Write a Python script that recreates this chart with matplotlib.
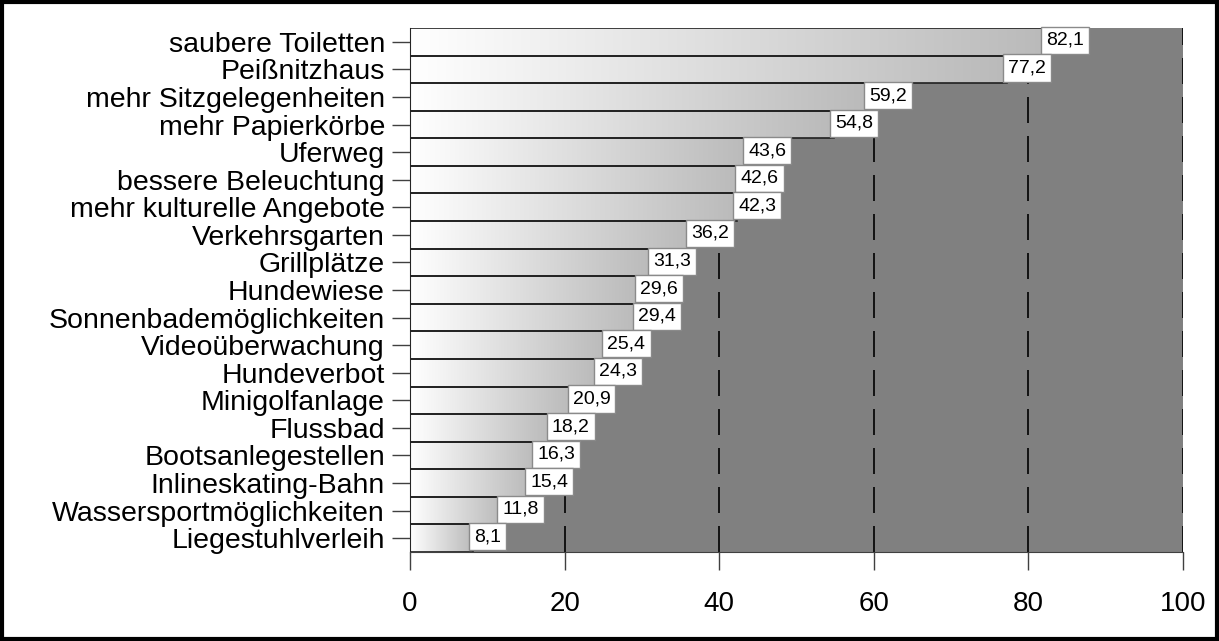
import numpy as np
import matplotlib.pyplot as plt
from matplotlib.colors import LinearSegmentedColormap
from matplotlib.patches import Rectangle

plt.rcParams['font.family'] = ['Liberation Sans', 'DejaVu Sans']

categories = ['saubere Toiletten', 'Peißnitzhaus', 'mehr Sitzgelegenheiten',
              'mehr Papierkörbe', 'Uferweg', 'bessere Beleuchtung',
              'mehr kulturelle Angebote', 'Verkehrsgarten', 'Grillplätze',
              'Hundewiese', 'Sonnenbademöglichkeiten', 'Videoüberwachung',
              'Hundeverbot', 'Minigolfanlage', 'Flussbad', 'Bootsanlegestellen',
              'Inlineskating-Bahn', 'Wassersportmöglichkeiten', 'Liegestuhlverleih']
values = [82.1, 77.2, 59.2, 54.8, 43.6, 42.6, 42.3, 36.2, 31.3, 29.6,
          29.4, 25.4, 24.3, 20.9, 18.2, 16.3, 15.4, 11.8, 8.1]
xticks = [0, 20, 40, 60, 80, 100]

fig = plt.figure(figsize=(12.19, 6.41), dpi=100)
ax = fig.add_axes([0.3363, 0.1388, 0.6342, 0.8175])
ax.set_facecolor('#808080')

# each bar gets its own white -> grey ramp
grad = LinearSegmentedColormap.from_list('g', ['#ffffff', '#bababa'])
ramp = np.linspace(0, 1, 256).reshape(1, -1)
n = len(values)
for i, v in enumerate(values):
    y = n - 1 - i
    ax.imshow(ramp, cmap=grad, extent=[0, v, y - 0.5, y + 0.5],
              aspect='auto', zorder=2, interpolation='bilinear')
    ax.add_patch(Rectangle((0, y - 0.5), v, 1, fill=False,
                           edgecolor='#202020', lw=1.2, zorder=3))
    ax.text(v + 0.15, y + 0.05, f'{v:.1f}'.replace('.', ','), ha='left', va='center',
            fontsize=14, zorder=4,
            bbox=dict(boxstyle='square,pad=0.26', fc='white', ec='#8a8a8a', lw=1))

for x in xticks[1:]:
    ax.axvline(x, color='black', ls=(0, (15.6, 7.8)), lw=1.2, zorder=1)

ax.set_xlim(0, 100)
ax.set_ylim(-0.5, n - 0.5)
ax.set_xticks(xticks)
ax.set_xticklabels([str(x) for x in xticks], fontsize=20)
ax.set_yticks(range(n))
ax.set_yticklabels(categories[::-1], fontsize=20.5)
ax.tick_params(axis='y', length=13, width=1, color='#404040', pad=5)
ax.tick_params(axis='x', length=13, width=1, color='#404040', pad=15)
for s in ['top', 'right']:
    ax.spines[s].set_visible(False)
ax.spines['left'].set_color('#404040')
ax.spines['bottom'].set_color('#404040')

fig.patches.append(Rectangle((0.002, 0.003), 0.996, 0.994, transform=fig.transFigure,
                             fill=False, edgecolor='black', lw=3))

fig.savefig('out.png', dpi=100)
